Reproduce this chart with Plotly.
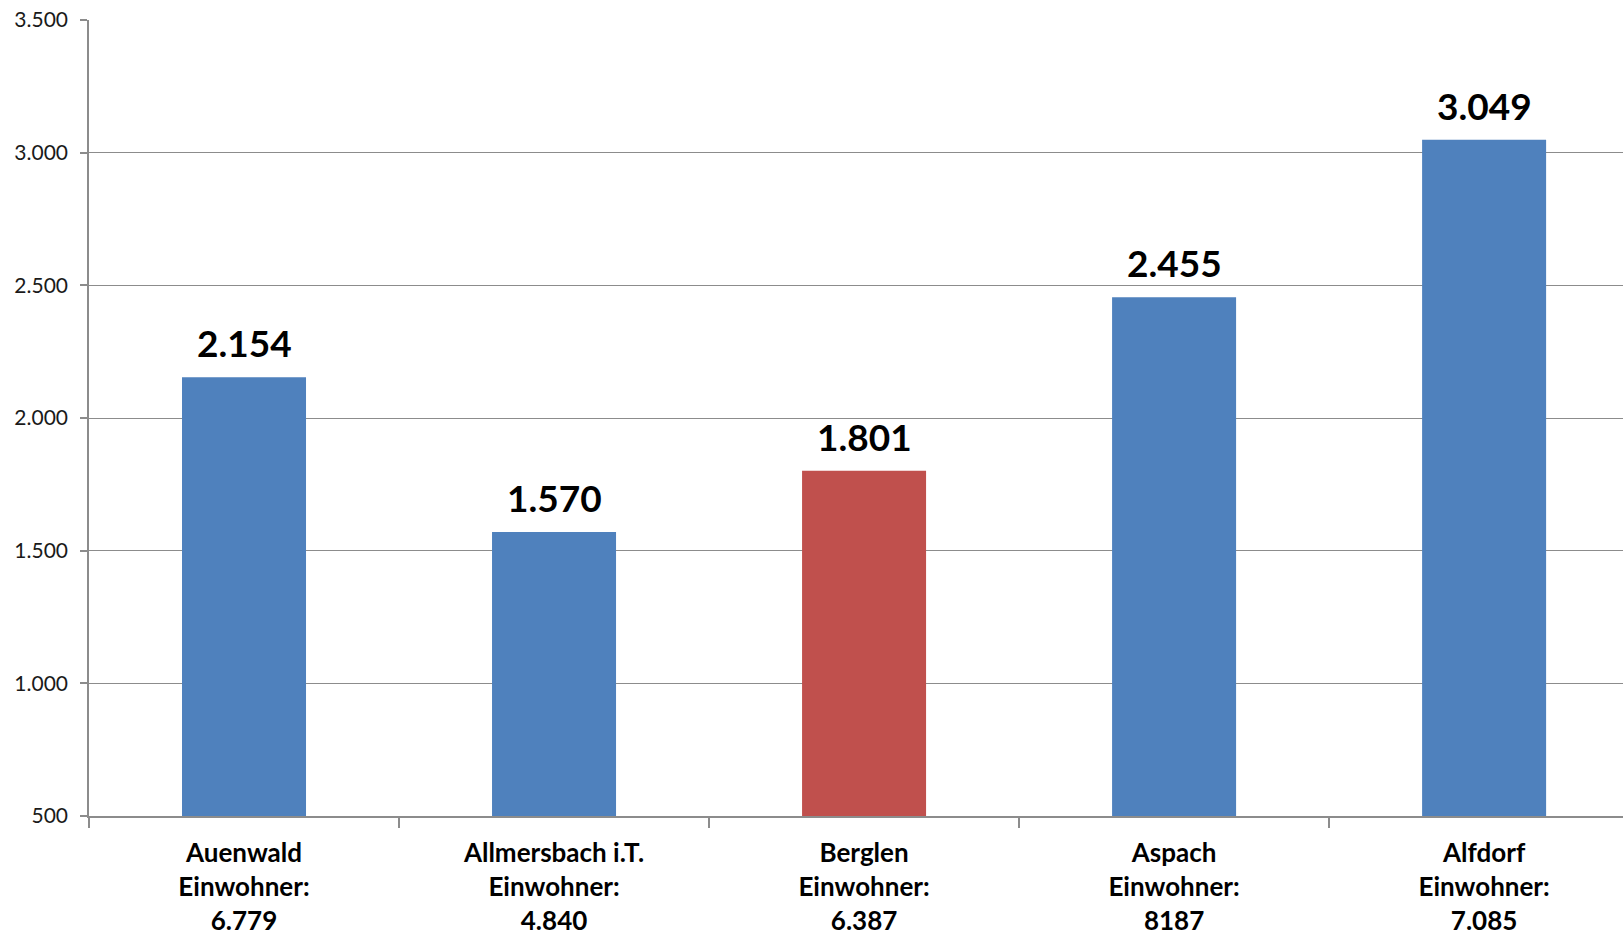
import plotly.graph_objects as go

# Gemeinden im Vergleich
gemeinden = ["Auenwald", "Allmersbach i.T.", "Berglen", "Aspach", "Alfdorf"]
einwohner = ["6.779", "4.840", "6.387", "8187", "7.085"]
werte = [2154, 1570, 1801, 2455, 3049]
farben = ["#4F81BD", "#4F81BD", "#C0504D", "#4F81BD", "#4F81BD"]

y_ticks = [500, 1000, 1500, 2000, 2500, 3000, 3500]

FONT = "Lato"
GRID = "#8c8c8c"


def de_format(v):
    return f"{v:,}".replace(",", ".")


tick_text = [f"<b>{g}<br>Einwohner:<br>{e}</b>" for g, e in zip(gemeinden, einwohner)]

fig = go.Figure()
fig.add_trace(go.Bar(
    x=gemeinden,
    y=werte,
    base=0,
    marker=dict(color=farben, line=dict(width=0)),
    width=0.4,
    hoverinfo="skip",
))

for g, v in zip(gemeinden, werte):
    fig.add_annotation(
        x=g, y=v, text=f"<b>{de_format(v)}</b>",
        showarrow=False, yanchor="bottom", yshift=10,
        font=dict(family=FONT, size=37, color="#000000"),
    )

fig.update_layout(
    width=1623, height=934,
    margin=dict(l=89, r=0, t=20, b=118),
    paper_bgcolor="white", plot_bgcolor="white",
    showlegend=False,
    separators=",.",
    bargap=0.6,
)

fig.update_xaxes(
    type="category",
    categoryorder="array", categoryarray=gemeinden,
    tickmode="array", tickvals=gemeinden, ticktext=tick_text,
    tickson="boundaries",
    range=[-0.5, 4.448],
    automargin=False,
    ticks="outside", ticklen=10, tickcolor=GRID, tickwidth=1.5,
    ticklabelstandoff=13,
    showline=True, linecolor=GRID, linewidth=1.5,
    showgrid=False,
    tickfont=dict(family=FONT, size=26, color="#000000"),
)

fig.update_yaxes(
    range=[500, 3500],
    tickmode="array", tickvals=y_ticks,
    ticktext=[de_format(t) for t in y_ticks],
    automargin=False,
    ticks="outside", ticklen=7, tickcolor=GRID, tickwidth=1.5,
    ticklabelstandoff=8,
    showline=True, linecolor=GRID, linewidth=1.5,
    showgrid=True, gridcolor=GRID, gridwidth=1.2,
    zeroline=False,
    tickfont=dict(family=FONT, size=21, color="#1a1a1a"),
)

fig.write_html("out.html")
